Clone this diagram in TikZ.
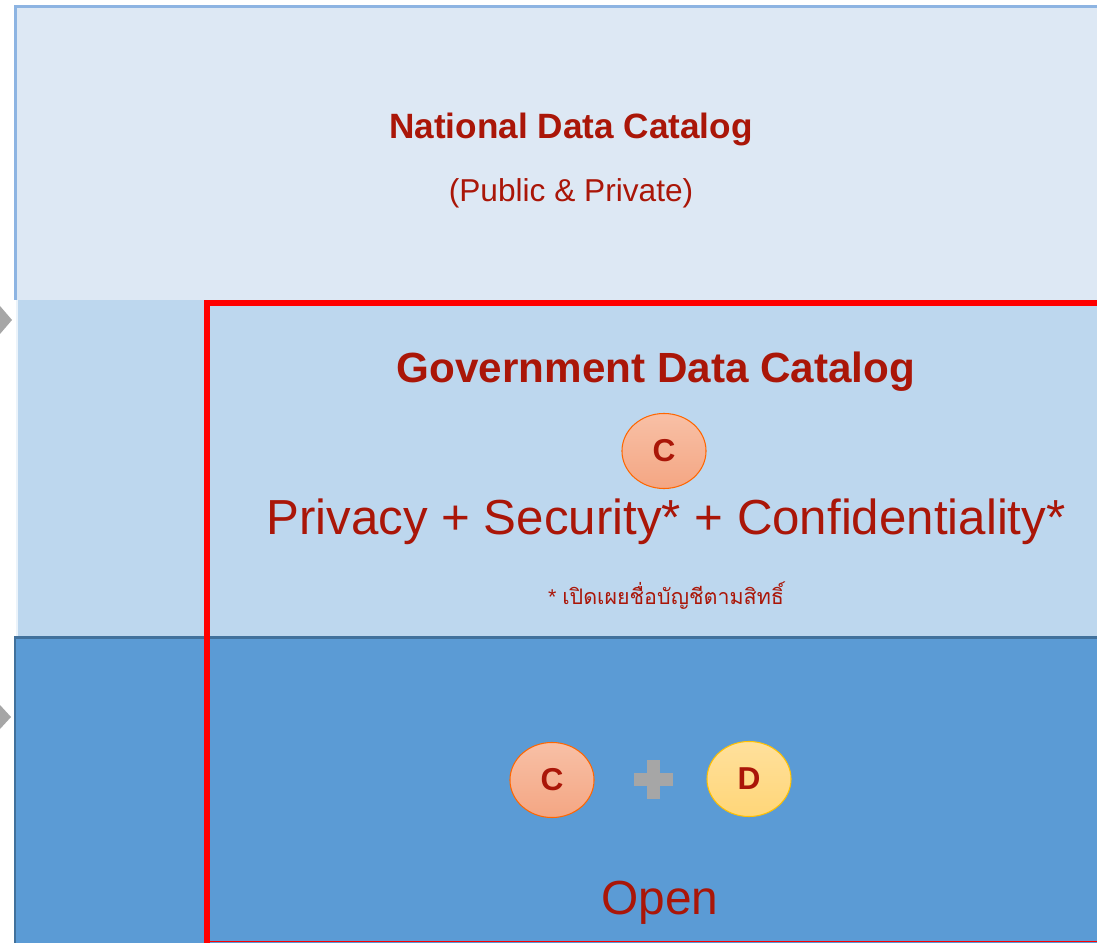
\documentclass[tikz,border=0pt]{standalone}
\usepackage{fontspec}
\setmainfont{Liberation Sans}
\newfontfamily\thaifont[Script=Thai]{Loma}
\usetikzlibrary{shapes.geometric}
\definecolor{catred}{RGB}{170,22,8}
\definecolor{natfill}{RGB}{221,232,244}
\definecolor{natline}{RGB}{141,180,226}
\definecolor{govfill}{RGB}{189,215,238}
\definecolor{openfill}{RGB}{91,155,213}
\definecolor{openline}{RGB}{65,113,156}
\definecolor{arrowgray}{RGB}{166,166,166}
\tikzset{
	layertitle/.style={text=catred,font=\bfseries\fontsize{#1}{#1}\selectfont},
	layertext/.style={text=catred,font=\fontsize{#1}{#1}\selectfont},
	cbubble/.style={ellipse,draw=orange!80!red,line width=0.3pt,top color={rgb,255:red,248;green,192;blue,166},bottom color={rgb,255:red,244;green,166;blue,131},minimum width=0.84cm,minimum height=0.75cm,text=catred,font=\bfseries\fontsize{9}{10}\selectfont},
	dbubble/.style={cbubble,draw={rgb,255:red,255;green,192;blue,0},top color={rgb,255:red,255;green,224;blue,156},bottom color={rgb,255:red,255;green,214;blue,120}}
}
\begin{document}
\begin{tikzpicture}[x=0.01cm,y=-0.01cm]
	\useasboundingbox (0,0) rectangle (1097,943);
	\fill[white] (0,0) rectangle (1097,943);
	% Schichten
	\fill[natfill] (15,6) rectangle (1097,300); \draw[natline,line width=0.6pt] (15.5,300) -- (15.5,6.5) -- (1097,6.5);
	\fill[govfill] (16,300) rectangle (1097,637); \draw[white!70!govfill,line width=0.3pt] (17,300) -- (17,636);
	\fill[openfill] (14,637) rectangle (1097,943); \draw[openline,line width=0.6pt] (15,943) -- (15,637.5) -- (1097,637.5);
	\draw[red,line width=1.45pt] (207,943) -- (207,303) -- (1100,303); \draw[red,line width=0.5pt] (207,941.5) -- (1100,941.5);
	\fill[arrowgray] (0,306) -- (12,320) -- (0,334) -- cycle; \fill[arrowgray] (0,705) -- (11,717) -- (0,729) -- cycle;
	
	\node[layertitle=10pt] (ndc) at (571,129) {National Data Catalog};
	\node[layertext=9pt] (pp) at (571,193) {(Public \& Private)};
	
	\node[layertitle=12pt] (gdc) at (656,372) {Government Data Catalog};
	\node[cbubble] (C1) at (664,451) {C};
	\node[layertext=14pt] (psc) at (666,522) {Privacy + Security* + Confidentiality*};
	\node[layertext=6.1pt] (note) at (666,596) {* {\thaifont เปิดเผยชื่อบัญชีตามสิทธิ์}};
	
	\node[cbubble] (C2) at (552,780) {C};
	\node[dbubble] (D) at (749,779) {D};
	\fill[arrowgray] (634,772.5) rectangle (673,785.5); \fill[arrowgray] (647,760) rectangle (660,799);
	\node[layertext=13.6pt] (open) at (660,903) {Open};
\end{tikzpicture}
\end{document}
